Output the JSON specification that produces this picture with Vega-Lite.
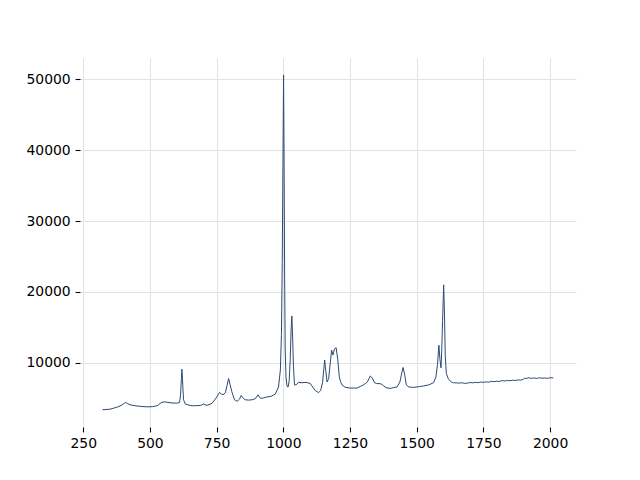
{
  "$schema": "https://vega.github.io/schema/vega-lite/v6.json",
  "width": 496,
  "height": 369,
  "autosize": {"type": "none"},
  "padding": {"left": 80, "top": 58, "right": 64, "bottom": 53},
  "background": "white",
  "config": {"view": {"stroke": null}, "font": "DejaVu Sans"},
  "data": {"values": [
    {"x": 322, "y": 3400}, {"x": 335, "y": 3420}, {"x": 350, "y": 3470}, {"x": 363, "y": 3600},
    {"x": 380, "y": 3800}, {"x": 395, "y": 4050}, {"x": 408, "y": 4420}, {"x": 415, "y": 4300},
    {"x": 425, "y": 4100}, {"x": 445, "y": 3950}, {"x": 470, "y": 3850}, {"x": 489, "y": 3800},
    {"x": 510, "y": 3830}, {"x": 527, "y": 3950}, {"x": 545, "y": 4450}, {"x": 555, "y": 4500},
    {"x": 583, "y": 4350}, {"x": 600, "y": 4320}, {"x": 611, "y": 4400}, {"x": 615, "y": 5500},
    {"x": 618, "y": 7800}, {"x": 620, "y": 9100}, {"x": 623, "y": 7000}, {"x": 626, "y": 4800},
    {"x": 633, "y": 4200}, {"x": 650, "y": 4000}, {"x": 664, "y": 3950}, {"x": 690, "y": 4000},
    {"x": 701, "y": 4200}, {"x": 714, "y": 4000}, {"x": 733, "y": 4300}, {"x": 751, "y": 5200},
    {"x": 761, "y": 5850}, {"x": 768, "y": 5600}, {"x": 774, "y": 5500}, {"x": 783, "y": 5800},
    {"x": 789, "y": 6800}, {"x": 795, "y": 7800}, {"x": 800, "y": 7000}, {"x": 807, "y": 5950},
    {"x": 817, "y": 4800}, {"x": 828, "y": 4600}, {"x": 836, "y": 4900}, {"x": 842, "y": 5400},
    {"x": 850, "y": 5000}, {"x": 857, "y": 4800}, {"x": 870, "y": 4750}, {"x": 883, "y": 4800},
    {"x": 895, "y": 4950}, {"x": 905, "y": 5500}, {"x": 914, "y": 5000}, {"x": 925, "y": 5050},
    {"x": 939, "y": 5200}, {"x": 955, "y": 5300}, {"x": 970, "y": 5600}, {"x": 982, "y": 6600},
    {"x": 989, "y": 9000}, {"x": 993, "y": 14000}, {"x": 996, "y": 24000}, {"x": 999, "y": 40000},
    {"x": 1001, "y": 50600}, {"x": 1003, "y": 38000}, {"x": 1005, "y": 22000}, {"x": 1007, "y": 12000},
    {"x": 1010, "y": 8000}, {"x": 1014, "y": 6700}, {"x": 1018, "y": 6600}, {"x": 1022, "y": 7500},
    {"x": 1026, "y": 10500}, {"x": 1029, "y": 14500}, {"x": 1032, "y": 16600}, {"x": 1035, "y": 13500},
    {"x": 1038, "y": 9500}, {"x": 1042, "y": 6900}, {"x": 1048, "y": 6900}, {"x": 1057, "y": 7250},
    {"x": 1070, "y": 7200}, {"x": 1085, "y": 7250}, {"x": 1101, "y": 7100}, {"x": 1110, "y": 6600},
    {"x": 1120, "y": 6100}, {"x": 1132, "y": 5800}, {"x": 1140, "y": 6100}, {"x": 1147, "y": 7200},
    {"x": 1152, "y": 9200}, {"x": 1155, "y": 10400}, {"x": 1158, "y": 9300}, {"x": 1164, "y": 7300},
    {"x": 1170, "y": 7800}, {"x": 1176, "y": 10000}, {"x": 1181, "y": 11800}, {"x": 1186, "y": 11100},
    {"x": 1192, "y": 12000}, {"x": 1198, "y": 12150}, {"x": 1204, "y": 10500}, {"x": 1210, "y": 8000},
    {"x": 1214, "y": 7400}, {"x": 1220, "y": 6900}, {"x": 1232, "y": 6550}, {"x": 1250, "y": 6450},
    {"x": 1276, "y": 6450}, {"x": 1290, "y": 6700}, {"x": 1301, "y": 6900}, {"x": 1315, "y": 7300},
    {"x": 1326, "y": 8150}, {"x": 1333, "y": 7900}, {"x": 1342, "y": 7200}, {"x": 1350, "y": 7100},
    {"x": 1366, "y": 7050}, {"x": 1375, "y": 6800}, {"x": 1385, "y": 6500}, {"x": 1401, "y": 6400},
    {"x": 1412, "y": 6500}, {"x": 1426, "y": 6600}, {"x": 1437, "y": 7300}, {"x": 1444, "y": 8600},
    {"x": 1449, "y": 9350}, {"x": 1455, "y": 8300}, {"x": 1461, "y": 6900}, {"x": 1470, "y": 6600},
    {"x": 1488, "y": 6550}, {"x": 1510, "y": 6650}, {"x": 1526, "y": 6750}, {"x": 1545, "y": 6900},
    {"x": 1563, "y": 7200}, {"x": 1572, "y": 8000}, {"x": 1578, "y": 9800}, {"x": 1583, "y": 12500},
    {"x": 1587, "y": 10500}, {"x": 1591, "y": 9300}, {"x": 1594, "y": 12000}, {"x": 1597, "y": 16000},
    {"x": 1601, "y": 21000}, {"x": 1604, "y": 17000}, {"x": 1607, "y": 11000}, {"x": 1611, "y": 8500},
    {"x": 1619, "y": 7700}, {"x": 1630, "y": 7300}, {"x": 1638, "y": 7200}, {"x": 1650, "y": 7180},
    {"x": 1660, "y": 7150}, {"x": 1670, "y": 7200}, {"x": 1680, "y": 7100}, {"x": 1690, "y": 7150},
    {"x": 1700, "y": 7230}, {"x": 1710, "y": 7180}, {"x": 1720, "y": 7260}, {"x": 1730, "y": 7200},
    {"x": 1740, "y": 7300}, {"x": 1750, "y": 7250}, {"x": 1760, "y": 7320}, {"x": 1770, "y": 7280},
    {"x": 1780, "y": 7400}, {"x": 1790, "y": 7350}, {"x": 1800, "y": 7420}, {"x": 1810, "y": 7380},
    {"x": 1820, "y": 7500}, {"x": 1830, "y": 7450}, {"x": 1840, "y": 7520}, {"x": 1850, "y": 7480},
    {"x": 1860, "y": 7560}, {"x": 1870, "y": 7520}, {"x": 1880, "y": 7600}, {"x": 1890, "y": 7560},
    {"x": 1900, "y": 7700}, {"x": 1905, "y": 7850}, {"x": 1910, "y": 7800}, {"x": 1920, "y": 7900},
    {"x": 1930, "y": 7820}, {"x": 1940, "y": 7880}, {"x": 1950, "y": 7800}, {"x": 1960, "y": 7900},
    {"x": 1970, "y": 7830}, {"x": 1980, "y": 7870}, {"x": 1990, "y": 7820}, {"x": 2000, "y": 7900},
    {"x": 2012, "y": 7880}
  ]},
  "mark": {"type": "line", "color": "#2b4b73", "strokeWidth": 1, "interpolate": "linear"},
  "encoding": {
    "x": {
      "field": "x", "type": "quantitative",
      "scale": {"domain": [238, 2097], "nice": false, "zero": false},
      "axis": {
        "title": null, "values": [250, 500, 750, 1000, 1250, 1500, 1750, 2000],
        "format": "d", "domain": false, "grid": true, "gridColor": "#e3e3e3", "gridWidth": 1.1,
        "tickColor": "#000000", "tickSize": 4.9, "tickWidth": 1.1, "labelPadding": 4.9,
        "labelFontSize": 13.9, "labelColor": "#000000", "labelFont": "DejaVu Sans", "labelFlush": false
      }
    },
    "y": {
      "field": "y", "type": "quantitative",
      "scale": {"domain": [960, 52980], "nice": false, "zero": false},
      "axis": {
        "title": null, "values": [10000, 20000, 30000, 40000, 50000],
        "format": "d", "domain": false, "grid": true, "gridColor": "#e3e3e3", "gridWidth": 1.1,
        "tickColor": "#000000", "tickSize": 4.9, "tickWidth": 1.1, "labelPadding": 4.9,
        "labelFontSize": 13.9, "labelColor": "#000000", "labelFont": "DejaVu Sans", "labelFlush": false
      }
    }
  }
}
